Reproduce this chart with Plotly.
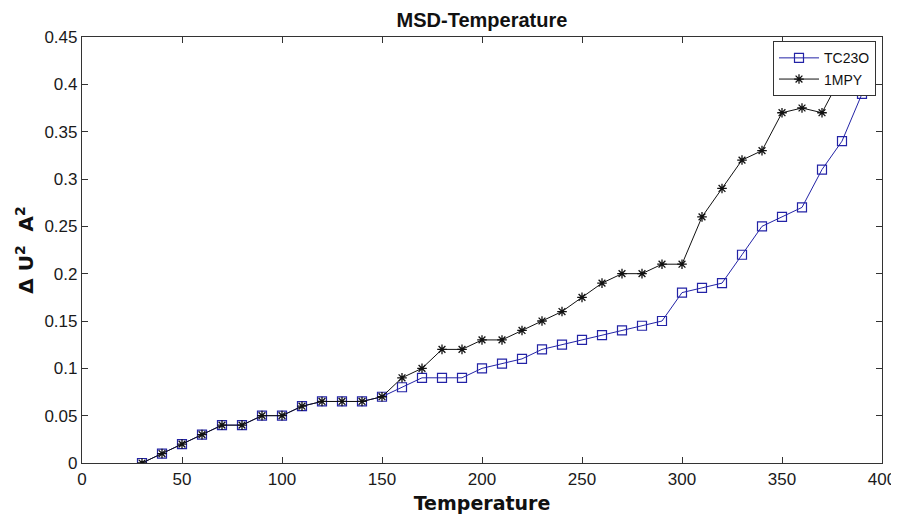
import plotly.graph_objects as go

temperature = [30, 40, 50, 60, 70, 80, 90, 100, 110, 120, 130, 140, 150, 160, 170, 180, 190, 200,
               210, 220, 230, 240, 250, 260, 270, 280, 290, 300, 310, 320, 330, 340, 350, 360, 370, 380, 390]
tc23o = [0, 0.01, 0.02, 0.03, 0.04, 0.04, 0.05, 0.05, 0.06, 0.065, 0.065, 0.065, 0.07, 0.08, 0.09, 0.09, 0.09, 0.10,
         0.105, 0.11, 0.12, 0.125, 0.13, 0.135, 0.14, 0.145, 0.15, 0.18, 0.185, 0.19, 0.22, 0.25, 0.26, 0.27, 0.31, 0.34, 0.39]
mpy1 = [0, 0.01, 0.02, 0.03, 0.04, 0.04, 0.05, 0.05, 0.06, 0.065, 0.065, 0.065, 0.07, 0.09, 0.10, 0.12, 0.12, 0.13,
        0.13, 0.14, 0.15, 0.16, 0.175, 0.19, 0.20, 0.20, 0.21, 0.21, 0.26, 0.29, 0.32, 0.33, 0.37, 0.375, 0.37, 0.41, 0.43]

x_ticks = [0, 50, 100, 150, 200, 250, 300, 350, 400]
y_ticks = [0, 0.05, 0.1, 0.15, 0.2, 0.25, 0.3, 0.35, 0.4, 0.45]
y_tick_labels = ["0", "0.05", "0.1", "0.15", "0.2", "0.25", "0.3", "0.35", "0.4", "0.45"]

fig = go.Figure()
fig.add_trace(go.Scatter(x=temperature, y=tc23o, mode="lines+markers", name="TC23O",
                         line=dict(color="#2323a6", width=1),
                         marker=dict(symbol="square-open", size=9, color="#2323a6", line=dict(width=1.2))))
fig.add_trace(go.Scatter(x=temperature, y=mpy1, mode="lines+markers", name="1MPY",
                         line=dict(color="#111111", width=1),
                         marker=dict(symbol="asterisk-open", size=8, color="#111111", line=dict(width=1.3, color="#111111"))))

axis_common = dict(showgrid=False, zeroline=False, showline=True, linecolor="#333333", linewidth=1.2,
                   mirror="ticks", ticks="inside", ticklen=6, tickcolor="#333333", automargin=False,
                   tickfont=dict(family="Liberation Sans, Arial", size=17, color="#1a1a1a"))

fig.update_layout(
    width=891, height=506,
    paper_bgcolor="white", plot_bgcolor="white",
    margin=dict(l=74, r=17, t=29, b=51),
    title=dict(text="<b>MSD-Temperature</b>", x=0.5, xref="paper", xanchor="center",
               y=1, yref="paper", yanchor="bottom", pad=dict(b=10),
               font=dict(family="Liberation Sans, Arial", size=20, color="#111111")),
    xaxis=dict(range=[0, 400], tickvals=x_ticks, **axis_common,
               title=dict(text="<b>Temperature</b>", standoff=13,
                          font=dict(family="DejaVu Sans", size=19, color="#111111"))),
    yaxis=dict(range=[0, 0.45], tickvals=y_ticks, ticktext=y_tick_labels, **axis_common,
               title=dict(text="<b>Δ U<sup>2</sup>  A<sup>2</sup></b>", standoff=5,
                          font=dict(family="DejaVu Sans", size=20, color="#111111"))),
    legend=dict(x=0.9925, xanchor="right", y=0.99, yanchor="top",
                bgcolor="white", bordercolor="#333333", borderwidth=1,
                font=dict(family="Liberation Sans, Arial", size=14, color="#111111"),
                tracegroupgap=0, itemwidth=40),
    showlegend=True,
)

fig.write_html("out.html")
